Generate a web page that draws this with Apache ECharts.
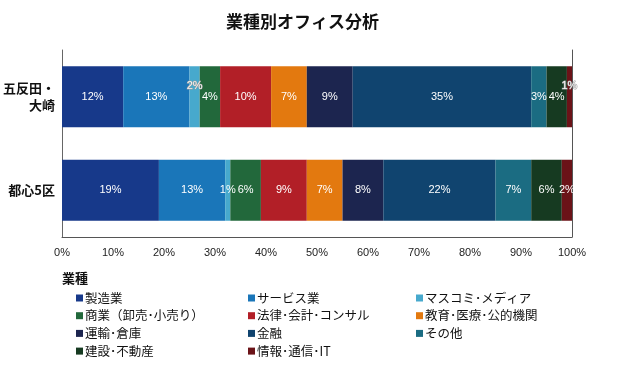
<!DOCTYPE html>
<html><head><meta charset="utf-8">
<script src="https://cdn.jsdelivr.net/npm/echarts@6/dist/echarts.min.js"></script>
<style>html,body{margin:0;padding:0;background:#fff}#c{width:631px;height:378px}</style>
</head><body><div id="c"></div>
<script>
// ---- data ----
const categories = ['五反田・\n大崎', '都心5区'];
const tickLabels = ['0%','10%','20%','30%','40%','50%','60%','70%','80%','90%','100%'];
const names = ['製造業','サービス業','マスコミ･メディア','商業（卸売･小売り）','法律･会計･コンサル','教育･医療･公的機関','運輸･倉庫','金融','その他','建設･不動産','情報･通信･IT'];
const manufacturing = [12, 19];
const service = [13, 13];
const media = [2, 1];
const commerce = [4, 6];
const legal = [10, 9];
const education = [7, 7];
const transport = [9, 8];
const finance = [35, 22];
const other = [3, 7];
const construction = [4, 6];
const infoIT = [1, 2];
const values = [manufacturing, service, media, commerce, legal, education, transport, finance, other, construction, infoIT];

// ---- styles ----
const colors = ['#17398a','#1a76b9','#47a9cd','#22683b','#b21f27','#e3790f','#1c254f','#10446f','#1b6c82','#163a21','#6b1318'];
const liftedLabels = {2: [0], 10: [0]}; // series index -> data indexes whose label is raised
const FONT = '"Liberation Sans", Arial, "Noto Sans CJK JP", sans-serif';
const JFONT = '"Noto Sans CJK JP", sans-serif';

const series = names.map((n, i) => ({
  name: n,
  type: 'bar',
  stack: 'total',
  barWidth: 61,
  yAxisIndex: 0,
  itemStyle: { color: colors[i] },
  label: {
    show: true, position: 'inside', color: '#fff', fontSize: 11, fontFamily: FONT,
    formatter: p => p.value + '%'
  },
  data: values[i].map((v, j) => {
    const d = { value: v };
    if (liftedLabels[i] && liftedLabels[i].includes(j)) {
      d.label = { offset: [0, -11], color: '#f4f4f4', textBorderColor: '#999', textBorderWidth: 1 };
    }
    return d;
  })
}));

const legendCols = [
  [names[0], names[3], names[6], names[9]],
  [names[1], names[4], names[7], names[10]],
  [names[2], names[5], names[8]]
];
const legendLeft = [71, 243, 411];
const legends = legendCols.map((col, k) => ({
  orient: 'vertical', left: legendLeft[k], top: 286,
  data: col, icon: 'rect', itemWidth: 7, itemHeight: 7, itemGap: 3.7,
  selectedMode: false,
  textStyle: { fontSize: 12.5, color: '#111', fontFamily: JFONT, lineHeight: 14, padding: [0,0,0,-3] }
}));

const chart = echarts.init(document.getElementById('c'), null, { renderer: 'canvas' });
chart.setOption({
  animation: false,
  backgroundColor: '#fff',
  title: [
    { text: '業種別オフィス分析', left: 221, top: 8, textStyle: { fontSize: 17, fontWeight: 'bold', color: '#111', fontFamily: JFONT } },
    { text: '業種', left: 57, top: 267, textStyle: { fontSize: 13, fontWeight: 'bold', color: '#111', fontFamily: JFONT } }
  ],
  legend: legends,
  grid: { left: 62, right: 59, top: 50, bottom: 141 },
  xAxis: {
    type: 'value', min: 0, max: 100, interval: 10,
    axisLine: { show: true, lineStyle: { color: '#555', width: 1 } },
    axisTick: { show: false },
    splitLine: { show: false },
    axisLabel: { color: '#222', fontSize: 11, fontFamily: FONT, margin: 10,
      formatter: v => tickLabels[Math.round(v / 10)] }
  },
  yAxis: [
    { type: 'category', data: categories, inverse: true,
      axisLine: { show: true, lineStyle: { color: '#666', width: 1 } },
      axisTick: { show: false },
      axisLabel: { color: '#111', fontSize: 13, fontWeight: 'bold', fontFamily: JFONT, margin: 7, lineHeight: 17, align: 'right' } },
    { type: 'category', data: categories, inverse: true, position: 'right',
      axisLine: { show: true, lineStyle: { color: '#555', width: 1 } },
      axisTick: { show: false }, axisLabel: { show: false } }
  ],
  series: series
});
</script></body></html>
